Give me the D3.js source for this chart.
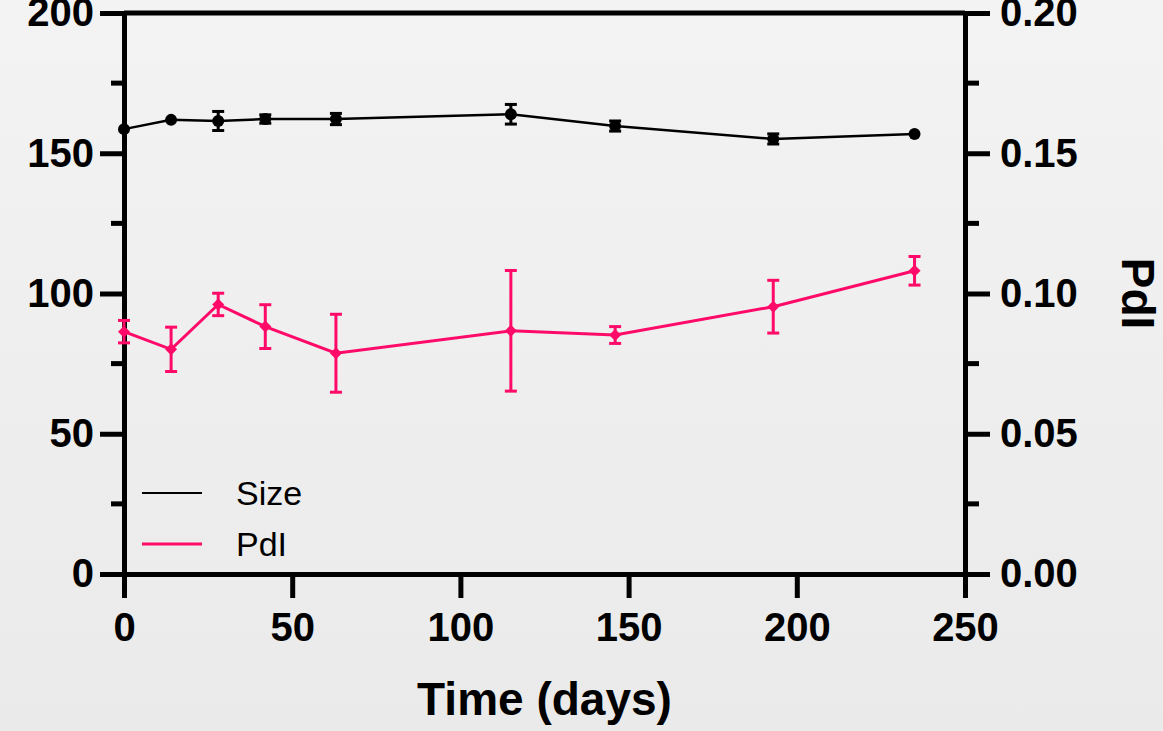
<!DOCTYPE html>
<meta charset="utf-8">
<script src="https://d3js.org/d3.v7.min.js"></script>
<style>
  body { margin: 0; }
</style>
<div id="my_dataviz"></div>

<script>

// data
var days      = [0, 14, 28, 42, 63, 115, 146, 193, 235];
var sizeMean  = [158.6, 161.9, 161.5, 162.2, 162.2, 163.9, 159.7, 155.1, 156.9];
var sizeErr   = [0, 0, 3.4, 1.5, 2.0, 3.5, 1.8, 1.8, 0];
var pdiMean   = [0.0864, 0.0801, 0.0961, 0.0882, 0.0787, 0.0867, 0.0852, 0.0953, 0.1081];
var pdiErr    = [0.0040, 0.0079, 0.0040, 0.0078, 0.0139, 0.0215, 0.0030, 0.0094, 0.0051];
var xTicks    = [0, 50, 100, 150, 200, 250];
var leftTicks = [0, 50, 100, 150, 200];
var leftMinor = [25, 75, 125, 175];
var rightTicks = [0, 0.05, 0.10, 0.15, 0.20];
var rightMinor = [0.025, 0.075, 0.125, 0.175];

var W = 1163, H = 731;
var margin = {top: 13, right: 198, bottom: 157, left: 124},
    width = W - margin.left - margin.right,
    height = H - margin.top - margin.bottom;

var pink = "#ff0a68";

var root = d3.select("#my_dataviz")
  .append("svg")
    .attr("width", W)
    .attr("height", H);

// background gradient
var grad = root.append("defs").append("linearGradient")
    .attr("id", "bg").attr("x1", 0).attr("y1", 0).attr("x2", 0).attr("y2", 1);
grad.append("stop").attr("offset", "0%").attr("stop-color", "#f3f3f3");
grad.append("stop").attr("offset", "100%").attr("stop-color", "#eaeaea");
root.append("rect").attr("width", W).attr("height", H).attr("fill", "url(#bg)");

var svg = root.append("g")
    .attr("transform", "translate(" + margin.left + "," + margin.top + ")");

var x = d3.scaleLinear().domain([0, 250]).range([0, width]);
var yL = d3.scaleLinear().domain([0, 200]).range([height, 0]);
var yR = d3.scaleLinear().domain([0, 0.20]).range([height, 0]);

var font = "Liberation Sans, Arial, sans-serif";

// top frame line
svg.append("line")
  .attr("x1", 0).attr("x2", width).attr("y1", 0).attr("y2", 0)
  .attr("stroke", "black").attr("stroke-width", 5);

// minor ticks
svg.append("g").selectAll("line").data(leftMinor).enter().append("line")
  .attr("x1", -13).attr("x2", 0)
  .attr("y1", function(d) { return yL(d); }).attr("y2", function(d) { return yL(d); })
  .attr("stroke", "black").attr("stroke-width", 5);
svg.append("g").selectAll("line").data(rightMinor).enter().append("line")
  .attr("x1", width).attr("x2", width + 14)
  .attr("y1", function(d) { return yR(d); }).attr("y2", function(d) { return yR(d); })
  .attr("stroke", "black").attr("stroke-width", 5);

// axes
function styleAxis(g) {
  g.select(".domain").attr("stroke-width", 5);
  g.selectAll(".tick line").attr("stroke-width", 5);
  g.selectAll("text")
    .style("font-family", font)
    .style("font-weight", "bold")
    .style("font-size", "40px")
    .attr("fill", "black");
}

svg.append("g")
  .attr("transform", "translate(0," + height + ")")
  .call(d3.axisBottom(x).tickValues(xTicks).tickSize(24).tickSizeOuter(0).tickPadding(15).tickFormat(d3.format("d")))
  .call(styleAxis);

svg.append("g")
  .call(d3.axisLeft(yL).tickValues(leftTicks).tickSize(24).tickSizeOuter(0).tickPadding(6).tickFormat(d3.format("d")))
  .call(styleAxis);

svg.append("g")
  .attr("transform", "translate(" + width + ",0)")
  .call(d3.axisRight(yR).tickValues(rightTicks).tickSize(25).tickSizeOuter(0).tickPadding(10).tickFormat(d3.format(".2f")))
  .call(styleAxis);

// axis titles
svg.append("text")
  .attr("x", width / 2).attr("y", 702)
  .attr("text-anchor", "middle")
  .style("font-family", font).style("font-weight", "bold").style("font-size", "46px")
  .text("Time (days)");

svg.append("text")
  .attr("transform", "translate(" + (width + 157) + "," + (height / 2) + ") rotate(90)")
  .attr("text-anchor", "middle")
  .style("font-family", font).style("font-weight", "bold").style("font-size", "46px")
  .text("PdI");

// Size series
var lineL = d3.line().x(function(d, i) { return x(days[i]); }).y(function(d) { return yL(d); });
svg.append("path").datum(sizeMean)
  .attr("d", lineL).attr("fill", "none").attr("stroke", "black").attr("stroke-width", 2.5);

var sizeBars = svg.append("g");
sizeMean.forEach(function(m, i) {
  if (sizeErr[i] <= 0) return;
  var cx = x(days[i]);
  sizeBars.append("line").attr("x1", cx).attr("x2", cx)
    .attr("y1", yL(m - sizeErr[i])).attr("y2", yL(m + sizeErr[i]))
    .attr("stroke", "black").attr("stroke-width", 3);
  [m - sizeErr[i], m + sizeErr[i]].forEach(function(v) {
    sizeBars.append("line").attr("x1", cx - 6).attr("x2", cx + 6)
      .attr("y1", yL(v)).attr("y2", yL(v))
      .attr("stroke", "black").attr("stroke-width", 3);
  });
});

svg.append("g").selectAll("circle").data(sizeMean).enter().append("circle")
  .attr("cx", function(d, i) { return x(days[i]); })
  .attr("cy", function(d) { return yL(d); })
  .attr("r", 6)
  .attr("fill", "black");

// PdI series
var lineR = d3.line().x(function(d, i) { return x(days[i]); }).y(function(d) { return yR(d); });
svg.append("path").datum(pdiMean)
  .attr("d", lineR).attr("fill", "none").attr("stroke", pink).attr("stroke-width", 3);

var pdiBars = svg.append("g");
pdiMean.forEach(function(m, i) {
  var cx = x(days[i]);
  pdiBars.append("line").attr("x1", cx).attr("x2", cx)
    .attr("y1", yR(m - pdiErr[i])).attr("y2", yR(m + pdiErr[i]))
    .attr("stroke", pink).attr("stroke-width", 3);
  [m - pdiErr[i], m + pdiErr[i]].forEach(function(v) {
    pdiBars.append("line").attr("x1", cx - 6).attr("x2", cx + 6)
      .attr("y1", yR(v)).attr("y2", yR(v))
      .attr("stroke", pink).attr("stroke-width", 3);
  });
});

svg.append("g").selectAll("path").data(pdiMean).enter().append("path")
  .attr("transform", function(d, i) { return "translate(" + x(days[i]) + "," + yR(d) + ")"; })
  .attr("d", "M0,-6L6,0L0,6L-6,0Z")
  .attr("fill", pink);

// legend
svg.append("line").attr("x1", 18).attr("x2", 78).attr("y1", 480).attr("y2", 480)
  .attr("stroke", "black").attr("stroke-width", 2);
svg.append("line").attr("x1", 18).attr("x2", 78).attr("y1", 531).attr("y2", 531)
  .attr("stroke", pink).attr("stroke-width", 3);
svg.append("text").attr("x", 112).attr("y", 480).attr("dy", "0.35em")
  .style("font-family", font).style("font-size", "34px").text("Size");
svg.append("text").attr("x", 112).attr("y", 531).attr("dy", "0.35em")
  .style("font-family", font).style("font-size", "34px").text("PdI");

</script>
